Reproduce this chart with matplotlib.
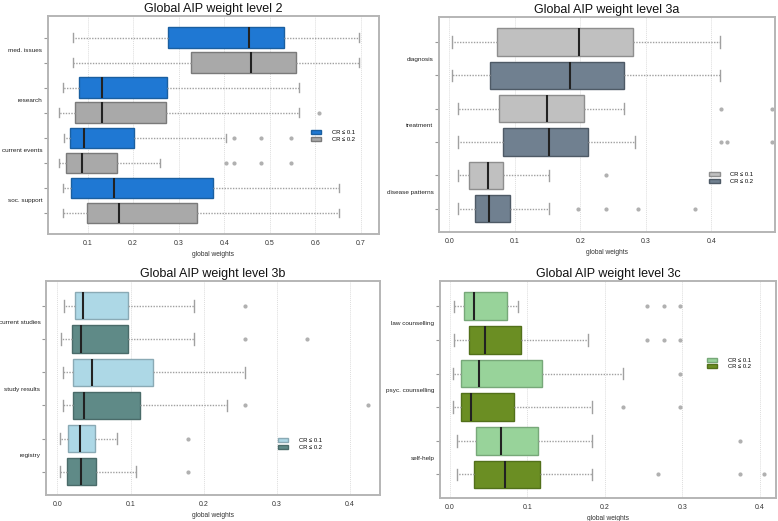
import matplotlib
matplotlib.use("Agg")
import matplotlib.pyplot as plt
from matplotlib.patches import Patch

plt.rcParams['font.family'] = ['Liberation Sans', 'DejaVu Sans']

# ---------------- data ----------------
# Each box: (whislo, q1, med, q3, whishi, fliers); order: CR<=0.1, CR<=0.2 per category
titles = ["Global AIP weight level 2", "Global AIP weight level 3a",
          "Global AIP weight level 3b", "Global AIP weight level 3c"]

cats_2 = ["med. issues", "research", "current events", "soc. support"]
cr1_2 = [(0.067, 0.277, 0.455, 0.532, 0.695, []),
         (0.046, 0.080, 0.132, 0.274, 0.564, []),
         (0.048, 0.061, 0.091, 0.201, 0.404, [0.421, 0.480, 0.546]),
         (0.046, 0.064, 0.157, 0.376, 0.653, [])]
cr2_2 = [(0.067, 0.327, 0.458, 0.557, 0.695, []),
         (0.038, 0.073, 0.131, 0.272, 0.564, [0.609]),
         (0.038, 0.053, 0.087, 0.164, 0.258, [0.404, 0.421, 0.480, 0.546]),
         (0.046, 0.099, 0.168, 0.341, 0.653, [])]

cats_3a = ["diagnosis", "treatment", "disease patterns"]
cr1_3a = [(0.004, 0.073, 0.198, 0.280, 0.413, []),
          (0.013, 0.076, 0.149, 0.206, 0.267, [0.415, 0.493]),
          (0.014, 0.031, 0.060, 0.082, 0.153, [0.239])]
cr2_3a = [(0.004, 0.063, 0.185, 0.267, 0.413, []),
          (0.013, 0.082, 0.153, 0.212, 0.284, [0.415, 0.424, 0.493]),
          (0.014, 0.040, 0.061, 0.093, 0.153, [0.197, 0.239, 0.288, 0.375])]

cats_3b = ["current studies", "study results", "registry"]
cr1_3b = [(0.009, 0.024, 0.035, 0.097, 0.187, [0.257]),
          (0.008, 0.022, 0.048, 0.131, 0.257, []),
          (0.003, 0.015, 0.031, 0.051, 0.082, [0.179])]
cr2_3b = [(0.0055, 0.020, 0.032, 0.096, 0.187, [0.257, 0.341]),
          (0.008, 0.022, 0.036, 0.113, 0.232, [0.257, 0.424]),
          (0.003, 0.013, 0.033, 0.053, 0.107, [0.179])]

cats_3c = ["law counselling", "psyc. counselling", "self-help"]
cr1_3c = [(0.005, 0.019, 0.032, 0.074, 0.088, [0.255, 0.276, 0.297]),
          (0.004, 0.015, 0.038, 0.119, 0.224, [0.297]),
          (0.009, 0.034, 0.066, 0.114, 0.184, [0.375])]
cr2_3c = [(0.005, 0.025, 0.046, 0.092, 0.179, [0.255, 0.276, 0.297]),
          (0.004, 0.014, 0.027, 0.083, 0.184, [0.224, 0.297]),
          (0.009, 0.032, 0.072, 0.117, 0.184, [0.269, 0.375, 0.406])]

legend_labels = ["CR \u2264 0.1", "CR \u2264 0.2"]

# ---------------- styling ----------------
panels = [
    dict(cats=cats_2, a=cr1_2, b=cr2_2, colors=("#1f78d3", "#a9a9a9"),
         rect=(48, 16, 379, 234), xlim=(0.013, 0.74), xticks=[0.1, 0.2, 0.3, 0.4, 0.5, 0.6, 0.7],
         legpos=(0.86, 0.45)),
    dict(cats=cats_3a, a=cr1_3a, b=cr2_3a, colors=("#c0c0c0", "#708090"),
         rect=(439, 17, 775, 232), xlim=(-0.0155, 0.497), xticks=[0.0, 0.1, 0.2, 0.3, 0.4],
         legpos=(0.87, 0.25)),
    dict(cats=cats_3b, a=cr1_3b, b=cr2_3b, colors=("#add8e6", "#5f8a87"),
         rect=(46, 281, 380, 495), xlim=(-0.0155, 0.441), xticks=[0.0, 0.1, 0.2, 0.3, 0.4],
         legpos=(0.76, 0.24)),
    dict(cats=cats_3c, a=cr1_3c, b=cr2_3c, colors=("#98d39a", "#6b8e23"),
         rect=(440, 281, 776, 498), xlim=(-0.0125, 0.421), xticks=[0.0, 0.1, 0.2, 0.3, 0.4],
         legpos=(0.86, 0.62)),
]
edge_dark = {"#1f78d3": "#1a5fa0", "#a9a9a9": "#7a7a7a", "#c0c0c0": "#8e8e8e",
             "#708090": "#4e5a66", "#add8e6": "#8aaab5", "#5f8a87": "#4a6b69",
             "#98d39a": "#77a879", "#6b8e23": "#52701a"}

W, H = 778, 521
fig = plt.figure(figsize=(W / 100, H / 100), dpi=100)

for i, p in enumerate(panels):
    l, t, r, b = p["rect"]
    ax = fig.add_axes([l / W, 1 - b / H, (r - l) / W, (b - t) / H])
    n = len(p["cats"])
    stats, pos, cols = [], [], []
    for k in range(n):
        for j, src in enumerate((p["a"], p["b"])):
            lo, q1, med, q3, hi, fl = src[k]
            stats.append(dict(whislo=lo, q1=q1, med=med, q3=q3, whishi=hi, fliers=fl))
            pos.append(2 * k + j + 1)
            cols.append(p["colors"][j])
    bp = ax.bxp(stats, positions=pos, widths=0.82, vert=False, patch_artist=True,
                showfliers=True,
                whiskerprops=dict(color="#a0a0a0", linestyle=(0, (1, 1)), linewidth=1.0),
                capprops=dict(color="#a0a0a0", linewidth=1.0),
                medianprops=dict(color="#222222", linewidth=1.5),
                flierprops=dict(marker="o", markersize=2.0, markerfacecolor="#b0b0b0",
                                markeredgecolor="#b0b0b0"))
    for patch, c in zip(bp["boxes"], cols):
        patch.set_facecolor(c)
        patch.set_edgecolor(edge_dark[c])
        patch.set_linewidth(1.0)
    for cap in bp["caps"]:
        y = cap.get_ydata()
        m = (y[0] + y[1]) / 2
        cap.set_ydata([m - 0.17, m + 0.17])

    nrows = 2 * n
    top_pad = 0.86 if i == 0 else 0.75
    bot_pad = 0.84 if i == 0 else 0.7
    ax.set_ylim(nrows + bot_pad, 1 - top_pad)
    ax.set_xlim(*p["xlim"])
    ax.set_xticks(p["xticks"])
    ax.set_xticklabels([f"{v:.1f}" for v in p["xticks"]], fontsize=5, color="#333333")
    ax.set_yticks(pos)
    ax.set_yticklabels([""] * len(pos))
    ax.set_yticks([2 * k + 1.5 for k in range(n)], minor=True)
    ax.set_yticklabels(p["cats"], minor=True, fontsize=4.6, color="#222222")
    ax.tick_params(axis="y", which="major", length=3, color="#999999", pad=2)
    ax.tick_params(axis="y", which="minor", length=0, pad=4)
    ax.tick_params(axis="x", length=0, pad=4)
    ax.grid(axis="x", color="#dddddd", linestyle=(0, (1, 1)), linewidth=0.7)
    ax.set_axisbelow(True)
    for s in ax.spines.values():
        s.set_color("#b5b5b5")
        s.set_linewidth(1.4)
    ax.set_xlabel("global weights", fontsize=4.8, color="#333333", labelpad=3)
    ax.set_title(titles[i], fontsize=9, color="#111111", pad=3)
    handles = [Patch(facecolor=p["colors"][0], edgecolor=edge_dark[p["colors"][0]]),
               Patch(facecolor=p["colors"][1], edgecolor=edge_dark[p["colors"][1]])]
    ax.legend(handles, legend_labels, loc="center", bbox_to_anchor=p["legpos"],
              frameon=False, fontsize=4.2, handlelength=1.8, handleheight=0.7,
              handletextpad=1.8, labelspacing=0.3)

fig.savefig("out.png", dpi=100, facecolor="white")
